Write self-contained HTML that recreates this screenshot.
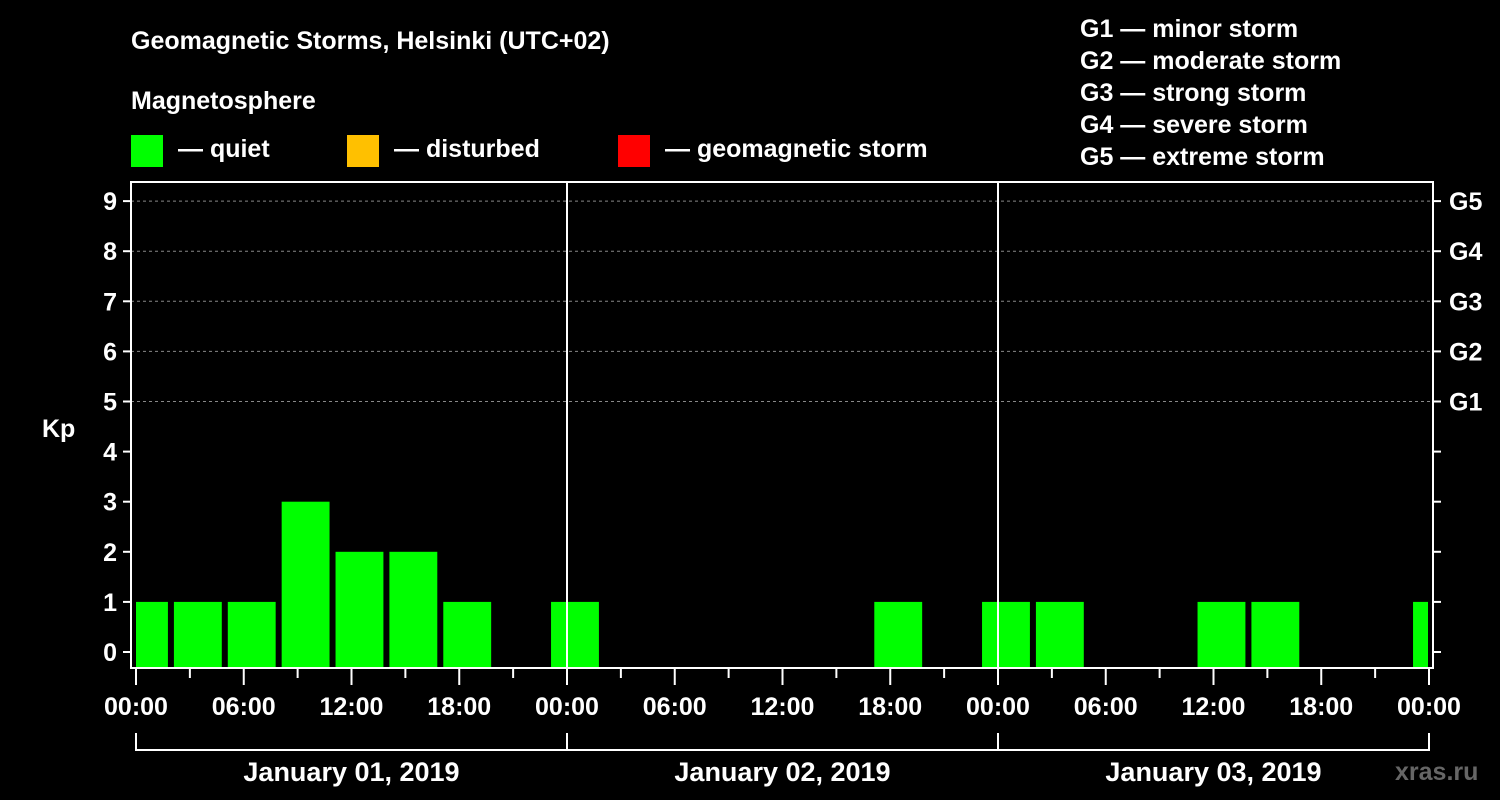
<!DOCTYPE html>
<html><head><meta charset="utf-8"><style>
html,body{margin:0;padding:0;background:#000;}
svg{display:block;font-family:"Liberation Sans",Arial,sans-serif;font-weight:bold;}
</style></head><body>
<svg width="1500" height="800" viewBox="0 0 1500 800">
<rect width="1500" height="800" fill="#000"/>
<g fill="#fff" font-size="25">
<text x="131" y="49">Geomagnetic Storms, Helsinki (UTC+02)</text>
<text x="131" y="109">Magnetosphere</text>
<rect x="131" y="135" width="32" height="32" fill="#00ff00"/>
<text x="178" y="157">— quiet</text>
<rect x="347" y="135" width="32" height="32" fill="#ffc000"/>
<text x="394" y="157">— disturbed</text>
<rect x="618" y="135" width="32" height="32" fill="#ff0000"/>
<text x="665" y="157">— geomagnetic storm</text>
<text x="1080" y="37">G1 — minor storm</text>
<text x="1080" y="69">G2 — moderate storm</text>
<text x="1080" y="101">G3 — strong storm</text>
<text x="1080" y="133">G4 — severe storm</text>
<text x="1080" y="165">G5 — extreme storm</text>
<text x="42" y="437">Kp</text>
<text x="1395" y="780" fill="#666">xras.ru</text>
</g>
<g id="plot"></g>
</svg>
<script>
const hourStarts = [-1,2,5,8,11,14,17,20,23,26,29,32,35,38,41,44,47,50,53,56,59,62,65,68,71];
const kpValues = [1,1,1,3,2,2,1,null,1,null,null,null,null,null,1,null,1,1,null,null,1,1,null,null,1];
const yTicks = [0,1,2,3,4,5,6,7,8,9];
const gLabels = ["G1","G2","G3","G4","G5"];
const gLevels = [5,6,7,8,9];
const xTickLabels = ["00:00","06:00","12:00","18:00"];
const dayLabels = ["January 01, 2019","January 02, 2019","January 03, 2019"];

const NS="http://www.w3.org/2000/svg";
const L=131,R=1433,T=182,B=668;
const X0=136,DAY=431;
function x(h){return X0+h*DAY/24;}
function y(v){return 652-v*50.1;}
const g=document.getElementById('plot');
function mk(tag,attrs){const e=document.createElementNS(NS,tag);for(const k in attrs)e.setAttribute(k,attrs[k]);g.appendChild(e);return e;}

// grid lines
gLevels.forEach(v=>{
  const l=mk('line',{x1:L,x2:R,y1:y(v),y2:y(v),stroke:'#888','stroke-dasharray':'3,3','stroke-width':1});
  
  
});
// bars
hourStarts.forEach((h,i)=>{
  const v=kpValues[i];
  if(v===null)return;
  let x1=Math.max(x(h)+2,X0), x2=Math.min(x(h+3)-4,x(72)-1);
  const col=v>=5?'#ff0000':(v>=4?'#ffc000':'#00ff00');
  const r=mk('rect',{x:x1,y:y(v),width:x2-x1,height:B-y(v),fill:col});
  
  
});
// frame
const fr=mk('rect',{x:L,y:T,width:R-L,height:B-T,fill:'none',stroke:'#fff','stroke-width':2});


// day separators
[1,2].forEach(d=>{
  const l=mk('line',{x1:x(24*d),x2:x(24*d),y1:T,y2:B,stroke:'#fff','stroke-width':2});
  
  
});
// y ticks
yTicks.forEach(v=>{
  mk('line',{x1:L-8,x2:L,y1:y(v),y2:y(v),stroke:'#fff','stroke-width':2});
  mk('line',{x1:R,x2:R+8,y1:y(v),y2:y(v),stroke:'#fff','stroke-width':2});
  const t=mk('text',{x:L-14,y:y(v)+9,'text-anchor':'end',fill:'#fff','font-size':25});
  t.textContent=v;
  
  
});
gLabels.forEach((s,i)=>{
  const t=mk('text',{x:R+16,y:y(gLevels[i])+9,fill:'#fff','font-size':25});
  t.textContent=s;
  
  
});
// x ticks
for(let h=0;h<=72;h+=3){
  const major=h%6===0;
  mk('line',{x1:x(h),x2:x(h),y1:B,y2:B+(major?17:10),stroke:'#fff','stroke-width':2});
  if(major){
    const t=mk('text',{x:x(h),y:B+47,'text-anchor':'middle',fill:'#fff','font-size':25});
    t.textContent=xTickLabels[(h/6)%4];
    
    
  }
}
// day brackets
dayLabels.forEach((s,d)=>{
  mk('path',{d:`M${x(24*d)} 733 V750 H${x(24*d+24)} V733`,fill:'none',stroke:'#fff','stroke-width':2});
  const t=mk('text',{x:x(24*d+12),y:781,'text-anchor':'middle',fill:'#fff','font-size':27});
  t.textContent=s;
  
  
});
</script>
</body></html>
